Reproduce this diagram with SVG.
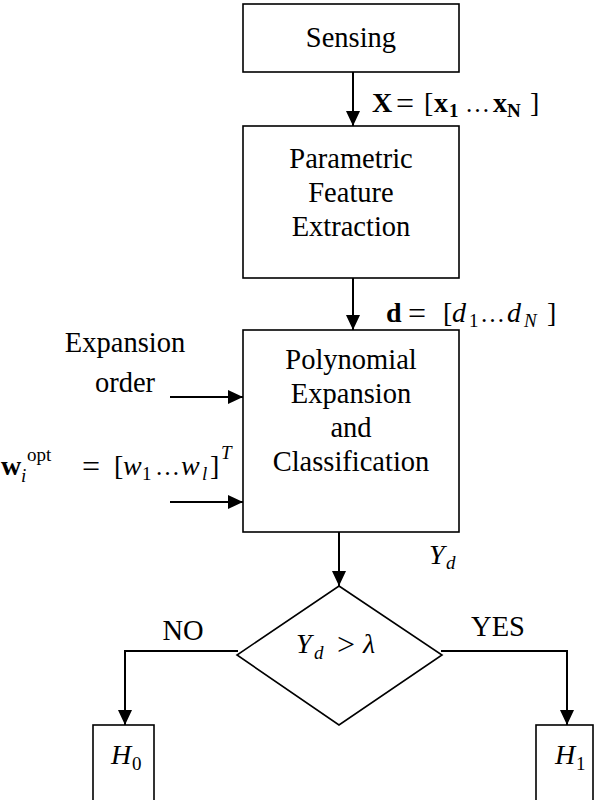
<svg xmlns="http://www.w3.org/2000/svg" width="595" height="800" viewBox="0 0 595 800">
<style>
.box{fill:#fff;stroke:#000;stroke-width:1.6}
.ln{fill:none;stroke:#000;stroke-width:2}
.t{font-family:"Liberation Serif","Times New Roman",serif;font-size:28.5px;fill:#000;text-anchor:middle}
.m{font-family:"Liberation Serif","Times New Roman",serif;font-size:28px;fill:#000}
.i{font-style:italic}
.b{font-weight:bold}
.s{font-size:19px}
.eq{font-size:32px}
.el{font-size:25px}
</style>
<defs>
<marker id="ah" markerUnits="userSpaceOnUse" markerWidth="16" markerHeight="14" refX="15" refY="7" orient="auto">
<path d="M0,0 L15,7 L0,14 Z" fill="#000"/>
</marker>
</defs>
<g id="connectors">
<line class="ln" x1="353" y1="72" x2="353" y2="126" marker-end="url(#ah)"/>
<line class="ln" x1="353" y1="278" x2="353" y2="330" marker-end="url(#ah)"/>
<line class="ln" x1="339" y1="532" x2="339" y2="586" marker-end="url(#ah)"/>
<line class="ln" x1="170" y1="397" x2="243" y2="397" marker-end="url(#ah)"/>
<line class="ln" x1="170" y1="502" x2="243" y2="502" marker-end="url(#ah)"/>
<polyline class="ln" points="238,651 125,651 125,725" marker-end="url(#ah)"/>
<polyline class="ln" points="441,651 567,651 567,725" marker-end="url(#ah)"/>
<text class="m"><tspan class="b" x="372" y="112">X</tspan><tspan class="eq" x="396" y="114">=</tspan><tspan x="424" y="112">[</tspan><tspan class="b" x="434" y="112">x</tspan><tspan class="b s" x="449" y="117">1</tspan><tspan class="el" x="465" y="112">…</tspan><tspan class="b" x="493" y="112">x</tspan><tspan class="b s" x="507" y="117">N</tspan><tspan x="530" y="112">]</tspan></text>
<text class="m"><tspan class="b" x="386" y="322">d</tspan><tspan class="eq" x="408" y="324">=</tspan><tspan x="443" y="322">[</tspan><tspan class="i" x="452" y="322">d</tspan><tspan class="s" x="469" y="327">1</tspan><tspan class="el" x="480" y="322">…</tspan><tspan class="i" x="507" y="322">d</tspan><tspan class="i s" x="524" y="327">N</tspan><tspan x="547" y="322">]</tspan></text>
<text class="t" x="125" y="352">Expansion</text>
<text class="t" x="125" y="392">order</text>
<text class="m"><tspan class="b" x="1" y="475">w</tspan><tspan class="i s" x="21" y="482">i</tspan><tspan class="s" x="27" y="461">opt</tspan><tspan class="eq" x="82" y="477">=</tspan><tspan x="114" y="475">[</tspan><tspan class="i" x="123" y="475">w</tspan><tspan class="s" x="142" y="480">1</tspan><tspan class="el" x="155" y="475">…</tspan><tspan class="i" x="181" y="475">w</tspan><tspan class="i s" x="202" y="480">l</tspan><tspan x="210" y="475">]</tspan><tspan class="i s" x="221" y="459">T</tspan></text>
<text class="m i"><tspan x="429" y="564">Y</tspan><tspan class="s" x="446" y="569">d</tspan></text>
<text class="t" x="183" y="640">NO</text>
<text class="t" x="498" y="636">YES</text>
</g>
<g id="sensing">
<rect class="box" x="243" y="4" width="216" height="68"/>
<text class="t" x="351" y="47">Sensing</text>
</g>
<g id="feature">
<rect class="box" x="243" y="126" width="216" height="152"/>
<text class="t" x="351" y="168">Parametric</text>
<text class="t" x="351" y="202">Feature</text>
<text class="t" x="351" y="236">Extraction</text>
</g>
<g id="classifier">
<rect class="box" x="243" y="330" width="216" height="202"/>
<text class="t" x="351" y="369">Polynomial</text>
<text class="t" x="351" y="403">Expansion</text>
<text class="t" x="351" y="437">and</text>
<text class="t" x="351" y="471">Classification</text>
</g>
<g id="decision">
<polygon class="box" points="339,586 442,655 339,725 237,655"/>
<text class="m"><tspan class="i" x="296" y="653">Y</tspan><tspan class="i s" x="314" y="659">d</tspan><tspan class="eq" x="337" y="655">&gt;</tspan><tspan class="i" x="363" y="653">λ</tspan></text>
</g>
<g id="h0">
<rect class="box" x="93" y="725" width="61" height="80"/>
<text class="m"><tspan class="i" x="111" y="764">H</tspan><tspan class="s" x="132" y="770">0</tspan></text>
</g>
<g id="h1">
<rect class="box" x="536" y="725" width="57" height="80"/>
<text class="m"><tspan class="i" x="555" y="764">H</tspan><tspan class="s" x="576" y="770">1</tspan></text>
</g>
</svg>
